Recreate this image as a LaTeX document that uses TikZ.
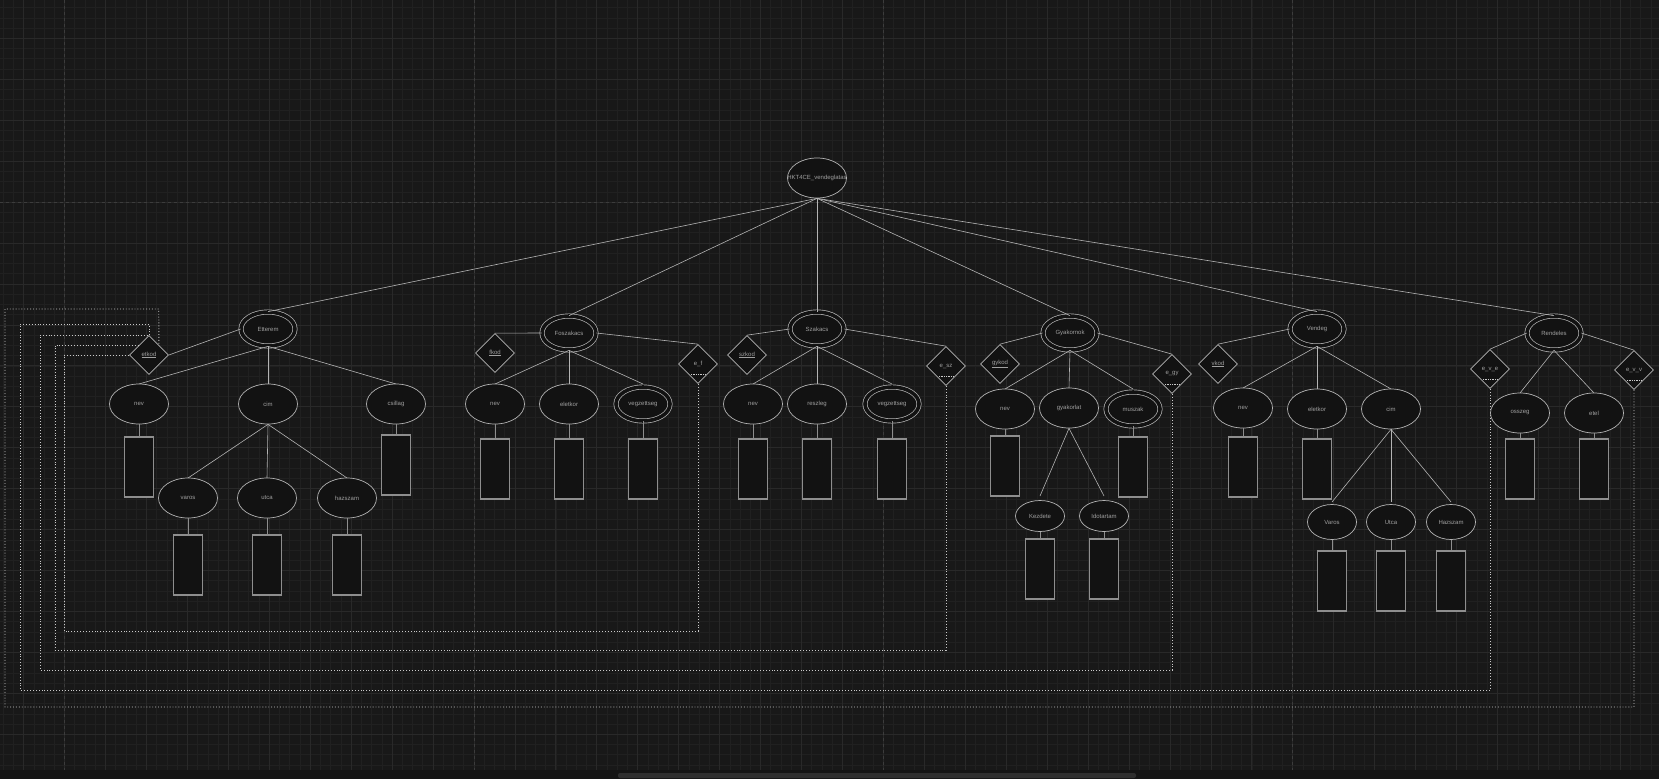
\documentclass[tikz,border=0pt]{standalone}
\usepackage{fontspec}
\setmainfont{Liberation Sans}
\usetikzlibrary{shapes.geometric}

\definecolor{bgc}{HTML}{181818}
\definecolor{gridc}{HTML}{202020}
\definecolor{majc}{HTML}{292929}
\definecolor{pagec}{HTML}{3C3C3C}
\definecolor{linec}{HTML}{B4B4B4}
\definecolor{boxc}{HTML}{8E8E8E}
\definecolor{fillc}{HTML}{121212}
\definecolor{txtc}{HTML}{A0A0A0}
\definecolor{dotc}{HTML}{CACACA}
\definecolor{scrollc}{HTML}{2E2E2E}

\begin{document}
\begin{tikzpicture}[x=1pt,y=-1pt,
  txt/.style={text=txtc,font=\fontsize{6}{7}\selectfont},
  attr/.style={ellipse,draw=linec,fill=fillc,line width=0.7pt,minimum width=59pt,minimum height=40pt,inner sep=0pt,txt},
  multi/.style={attr,double=fillc,double distance=3.6pt,minimum width=54pt,minimum height=34pt},
  ent/.style={multi},
  part/.style={attr,minimum width=49pt,minimum height=31pt},
  vpart/.style={attr,minimum width=49pt,minimum height=35pt},
  keyrel/.style={diamond,draw=linec,fill=fillc,line width=0.7pt,minimum width=39pt,minimum height=39pt,inner sep=0pt,txt},
  fkrel/.style={keyrel,path picture={\draw[dotc,densely dotted,line width=0.7pt] ([xshift=-7pt,yshift=-10pt]path picture bounding box.center) -- ([xshift=7pt,yshift=-10pt]path picture bounding box.center);}},
  valbox/.style={draw=boxc,fill=fillc,line width=1.1pt,minimum width=29pt,minimum height=60pt,inner sep=0pt},
  conn/.style={linec,line width=0.6pt},
  fk/.style={dotc,dotted,line width=0.9pt}]
\useasboundingbox (0,0) rectangle (1659,779);
\fill[bgc] (0,0) rectangle (1659,779);
% grid
\foreach \i in {-6,...,155}
  \draw[gridc,line width=0.5pt] ({64.5+\i*10.235},0) -- ++(0,770);
\foreach \i in {-19,...,55}
  \draw[gridc,line width=0.5pt] (0,{202+\i*10.235}) -- ++(1659,0);
\foreach \i in {-1,...,38}
  \draw[majc,line width=0.6pt] ({64.5+\i*40.94},0) -- ++(0,770);
\foreach \i in {-4,...,13}
  \draw[majc,line width=0.6pt] (0,{202+\i*40.94}) -- ++(1659,0);
\foreach \i in {0,...,3}
  \draw[pagec,dashed,line width=0.8pt] ({64.5+\i*409.4},0) -- ++(0,770);
\draw[pagec,dashed,line width=0.8pt] (0,202) -- ++(1659,0);
\fill[bgc!85!black] (0,770) rectangle (1659,779);
\fill[scrollc,rounded corners=2pt] (618,773) rectangle (1136,778);

\node[attr,label={[txt]center:HKT4CE\_vendeglatas}] (root) at (817,178) {};
\foreach \n/\x/\y/\t in {etterem/268/329/Etterem, foszakacs/569/333/Foszakacs, szakacs/817/329/Szakacs,
    gyakornok/1070/333/Gyakornok, vendeg/1317/329/Vendeg, rendeles/1554/333/Rendeles}
{
  \node[ent] (\n) at (\x,\y) {\t};
  \draw[conn] (root.south) -- (\n.north);
}

\foreach \n/\x/\y/\t in {etkod/149/355/etkod, fkod/495/353/fkod, szkod/747/355/szkod, gykod/1000/364/gykod, vkod/1218/364/vkod}
  \node[keyrel] (\n) at (\x,\y) {\underline{\t}};
\foreach \n/\x/\y/\t in {ef/698/364/e\_f, esz/946/366/e\_sz, egy/1172/374/e\_gy, eve/1490/369/e\_v\_e, evv/1634/370/e\_v\_v}
  \node[fkrel] (\n) at (\x,\y) {\t};

\draw[conn] (etterem.west) -- (etkod.east);
\foreach \e/\d in {foszakacs/fkod, szakacs/szkod, gyakornok/gykod, vendeg/vkod, rendeles/eve}
  \draw[conn] (\e.west) -- (\d.north);
\foreach \e/\d in {foszakacs/ef, szakacs/esz, gyakornok/egy, rendeles/evv}
  \draw[conn] (\e.east) -- (\d.north);

% foreign keys back to etkod
\draw[fk] (ef.south) |- (64,631) |- (etkod.west);
\draw[fk] (esz.south) |- (55,650) |- (etkod.north west);
\draw[fk] (egy.south) |- (40,670) |- (etkod.north);
\draw[fk] (eve.south) |- (20,690) |- (149,324) -- (etkod.north);
\draw[fk] (evv.south) |- (5,707) |- (158.75,309) -- (etkod.north east);

\foreach \n/\x/\y/\t/\p/\s in {enev/139/404/nev/etterem/attr, ecim/268/404/cim/etterem/attr,
    ecsillag/396/404/csillag/etterem/attr, evaros/188/498/varos/ecim/attr,
    eutca/267/498/utca/ecim/attr, ehazszam/347/498/hazszam/ecim/attr,
    fnev/495/404/nev/foszakacs/attr, feletkor/569/404/eletkor/foszakacs/attr,
    fvegz/643/404/vegzettseg/foszakacs/multi,
    sznev/753/404/nev/szakacs/attr, szreszleg/817/404/reszleg/szakacs/attr,
    szvegz/892/404/vegzettseg/szakacs/multi,
    gynev/1005/409/nev/gyakornok/attr, gygyak/1069/408/gyakorlat/gyakornok/attr,
    gymuszak/1133/409/muszak/gyakornok/multi,
    gykezd/1040/516/Kezdete/gygyak/part, gyido/1104/516/Idotartam/gygyak/part,
    vnev/1243/408/nev/vendeg/attr, veletkor/1317/409/eletkor/vendeg/attr,
    vcim/1391/409/cim/vendeg/attr, vvaros/1332/522/Varos/vcim/vpart,
    vutca/1391/522/Utca/vcim/vpart, vhazszam/1451/522/Hazszam/vcim/vpart,
    rosszeg/1520/413/osszeg/rendeles/attr, retel/1594/413/etel/rendeles/attr}
{
  \draw[conn] (\p.south) -- (\x,{\y-20});
  \node[\s] (\n) at (\x,\y) {\t};
}

\foreach \n/\y in {enev/467, ecsillag/465, evaros/565, eutca/565, ehazszam/565,
    fnev/469, feletkor/469, fvegz/469, sznev/469, szreszleg/469, szvegz/469,
    gynev/466, gymuszak/467, gykezd/569, gyido/569,
    vnev/467, veletkor/469, vvaros/581, vutca/581, vhazszam/581, rosszeg/469, retel/469}
{
  \node[valbox] (b\n) at (\n.center |- 0,\y) {};
  \draw[boxc,line width=1pt] (\n.south) -- (b\n.north);
}
\end{tikzpicture}
\end{document}
